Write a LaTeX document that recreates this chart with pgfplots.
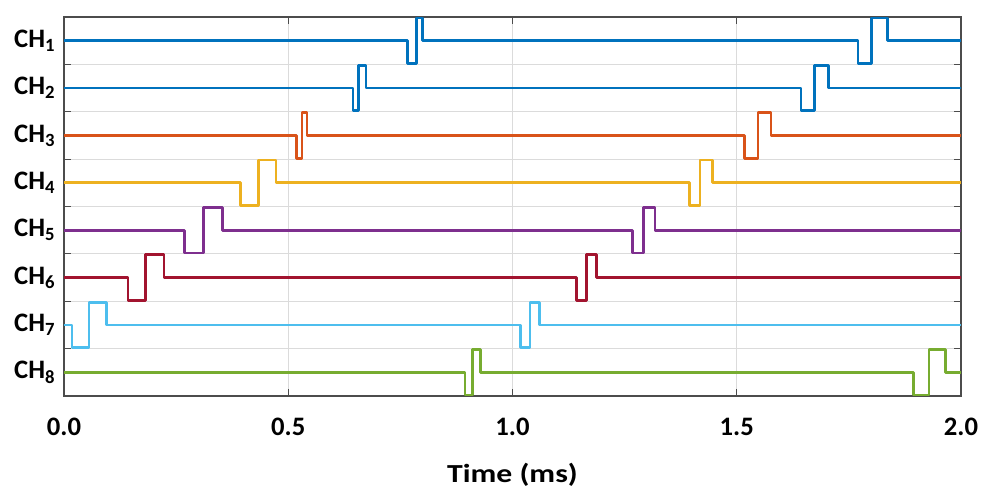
\documentclass[border=0pt]{standalone}
\usepackage{pgfplots}
\pgfplotsset{compat=1.18}
\usepackage{fontspec}
\setmainfont{Carlito}
\definecolor{c1}{rgb}{0,0.447,0.741}
\definecolor{c3}{rgb}{0.85,0.325,0.098}
\definecolor{c4}{rgb}{0.929,0.694,0.125}
\definecolor{c5}{rgb}{0.494,0.184,0.556}
\definecolor{c6}{rgb}{0.635,0.078,0.184}
\definecolor{c7}{rgb}{0.301,0.745,0.933}
\definecolor{c8}{rgb}{0.466,0.674,0.188}
\definecolor{gridc}{rgb}{0.86,0.86,0.86}
\definecolor{axc}{rgb}{0.3,0.3,0.3}
\begin{document}
\begin{tikzpicture}
\begin{axis}[
  scale only axis,
  width=672.75pt, height=284.25pt,
  xmin=0, xmax=2, ymin=0, ymax=8,
  axis line style={axc, line width=0.8pt},
  tick style={axc, line width=0.8pt},
  major tick length=5pt,
  xtick={0,0.5,1,1.5,2},
  xticklabels={0.0,0.5,1.0,1.5,2.0},
  xticklabel style={font=\fontsize{20}{22}\selectfont\bfseries, yshift=-13pt},
  ytick={0,1,...,8},
  yticklabels={},
  extra y ticks={0.5,1.5,2.5,3.5,4.5,5.5,6.5,7.5},
  extra y tick labels={CH\textsubscript{8},CH\textsubscript{7},CH\textsubscript{6},CH\textsubscript{5},CH\textsubscript{4},CH\textsubscript{3},CH\textsubscript{2},CH\textsubscript{1}},
  extra y tick style={major tick length=0pt, grid=none,
     yticklabel style={font=\fontsize{20}{22}\selectfont\bfseries, xshift=-3pt}},
  grid=major,
  major grid style={gridc, line width=0.6pt},
  xlabel={\scalebox{1.22}[1]{Time (ms)}},
  xlabel style={font=\fontsize{19.5}{21}\selectfont\bfseries, yshift=-14pt},
  every axis plot/.append style={line width=2pt, line join=round},
]
% CH1
\addplot[c1] coordinates {(0,7.5)(0.766,7.5)(0.766,7.02)(0.786,7.02)(0.786,7.98)(0.800,7.98)(0.800,7.5)(1.770,7.5)(1.770,7.02)(1.801,7.02)(1.801,7.98)(1.836,7.98)(1.836,7.5)(2,7.5)};
% CH2
\addplot[c1] coordinates {(0,6.5)(0.644,6.5)(0.644,6.02)(0.657,6.02)(0.657,6.98)(0.673,6.98)(0.673,6.5)(1.643,6.5)(1.643,6.02)(1.674,6.02)(1.674,6.98)(1.704,6.98)(1.704,6.5)(2,6.5)};
% CH3
\addplot[c3] coordinates {(0,5.5)(0.519,5.5)(0.519,5.02)(0.531,5.02)(0.531,5.98)(0.542,5.98)(0.542,5.5)(1.518,5.5)(1.518,5.02)(1.547,5.02)(1.547,5.98)(1.576,5.98)(1.576,5.5)(2,5.5)};
% CH4
\addplot[c4] coordinates {(0,4.5)(0.394,4.5)(0.394,4.02)(0.433,4.02)(0.433,4.98)(0.473,4.98)(0.473,4.5)(1.394,4.5)(1.394,4.02)(1.418,4.02)(1.418,4.98)(1.446,4.98)(1.446,4.5)(2,4.5)};
% CH5
\addplot[c5] coordinates {(0,3.5)(0.268,3.5)(0.268,3.02)(0.311,3.02)(0.311,3.98)(0.353,3.98)(0.353,3.5)(1.268,3.5)(1.268,3.02)(1.292,3.02)(1.292,3.98)(1.318,3.98)(1.318,3.5)(2,3.5)};
% CH6
\addplot[c6] coordinates {(0,2.5)(0.143,2.5)(0.143,2.02)(0.182,2.02)(0.182,2.98)(0.223,2.98)(0.223,2.5)(1.143,2.5)(1.143,2.02)(1.165,2.02)(1.165,2.98)(1.188,2.98)(1.188,2.5)(2,2.5)};
% CH7
\addplot[c7] coordinates {(0,1.5)(0.018,1.5)(0.018,1.02)(0.056,1.02)(0.056,1.98)(0.095,1.98)(0.095,1.5)(1.018,1.5)(1.018,1.02)(1.039,1.02)(1.039,1.98)(1.060,1.98)(1.060,1.5)(2,1.5)};
% CH8
\addplot[c8] coordinates {(0,0.5)(0.894,0.5)(0.894,0.02)(0.911,0.02)(0.911,0.98)(0.929,0.98)(0.929,0.5)(1.894,0.5)(1.894,0.02)(1.929,0.02)(1.929,0.98)(1.966,0.98)(1.966,0.5)(2,0.5)};
\end{axis}
\pgfresetboundingbox
\path ([shift={(-48pt,-72.75pt)}]current axis.south west) rectangle ([shift={(687.75pt,297pt)}]current axis.south west);
\end{tikzpicture}
\end{document}
